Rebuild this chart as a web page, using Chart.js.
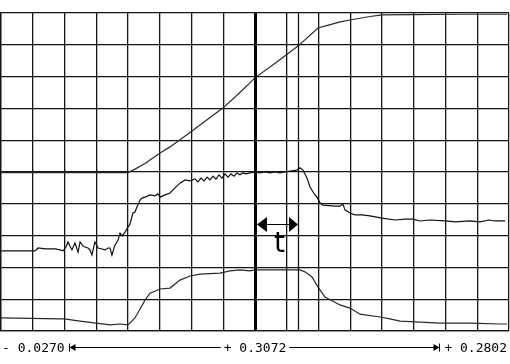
<!DOCTYPE html>
<html>
<head>
<meta charset="utf-8">
<script src="https://cdn.jsdelivr.net/npm/chart.js@4.4.1/dist/chart.umd.min.js"></script>
<style>
  html, body { margin: 0; padding: 0; background: #fff; }
  #wrap { width: 510px; height: 364px; }
</style>
</head>
<body>
<div id="wrap"><canvas id="scope" width="510" height="364"></canvas></div>
<script>
// time base in ms, amplitude in screen divisions (0 = bottom, 10 = top)
const START_MS = -27.0;
const SPAN_MS = 307.2;
const X_DIVS = 16;
const Y_DIVS = 10;

const cursorA = 126.6;
const cursorB = 152.4;
const arrowLevel = 3.36;
const tLabelLevel = 2.48;

const upperTime  = [-27.0, 10.5, 30.4, 49.8, 54.0, 60.1, 63.1, 69.2, 75.2, 87.3, 97.6, 107.2, 117.5, 126.6, 140.0, 152.6, 164.7, 171.0, 178.0, 184.0, 196.1, 203.4, 222.1, 250.0, 279.0];
const upperLevel = [4.98, 4.98, 4.98, 4.98, 5.09, 5.27, 5.38, 5.60, 5.79, 6.24, 6.64, 7.01, 7.50, 7.96, 8.47, 8.96, 9.53, 9.62, 9.72, 9.78, 9.89, 9.94, 9.95, 9.96, 9.96];

const middleTime  = [-27.0, -15.5, -6.4, -4.6, -0.4, 5.7, 8.7, 10.5, 12.3, 13.5, 14.7, 15.9, 17.7, 19.6, 20.8, 22.6, 23.8, 25.6, 26.8, 28.0, 29.8, 31.7, 34.1, 35.9, 37.7, 38.9, 40.1, 41.9, 43.8, 45.0, 46.2, 48.0, 49.8, 51.0, 52.8, 54.0, 55.2, 57.1, 58.3, 60.1, 63.1, 66.1, 67.9, 69.2, 72.2, 75.2, 78.2, 81.2, 84.3, 87.3, 90.3, 92.1, 93.9, 95.8, 97.6, 99.4, 101.2, 103.0, 104.8, 106.6, 108.5, 110.3, 112.1, 113.9, 115.7, 117.5, 119.3, 121.2, 123.6, 126.6, 129.6, 132.6, 135.7, 138.7, 141.7, 144.7, 147.8, 152.0, 153.8, 155.6, 158.0, 159.9, 161.7, 162.9, 164.1, 165.9, 167.7, 175.0, 178.0, 179.8, 181.0, 184.0, 187.1, 191.3, 196.1, 203.4, 211.3, 217.3, 222.1, 226.3, 232.0, 241.5, 248.0, 256.6, 262.7, 268.0, 271.7, 277.8];
const middleLevel = [2.52, 2.52, 2.52, 2.61, 2.58, 2.58, 2.55, 2.52, 2.64, 2.80, 2.67, 2.55, 2.77, 2.48, 2.80, 2.67, 2.64, 2.61, 2.55, 2.39, 2.80, 2.61, 2.58, 2.55, 2.61, 2.61, 2.39, 2.70, 2.86, 3.08, 2.99, 3.11, 3.27, 3.36, 3.71, 3.74, 3.90, 4.12, 4.18, 4.21, 4.28, 4.25, 4.31, 4.21, 4.28, 4.34, 4.50, 4.65, 4.75, 4.72, 4.78, 4.69, 4.81, 4.72, 4.84, 4.75, 4.87, 4.78, 4.91, 4.81, 4.94, 4.84, 4.94, 4.87, 4.97, 4.91, 4.97, 4.94, 4.97, 5.00, 4.97, 5.00, 4.97, 5.00, 4.97, 5.00, 5.03, 5.06, 5.13, 5.06, 4.81, 4.53, 4.37, 4.28, 4.21, 4.03, 3.96, 3.93, 3.93, 3.99, 3.81, 3.71, 3.65, 3.65, 3.62, 3.55, 3.49, 3.52, 3.52, 3.46, 3.49, 3.46, 3.43, 3.46, 3.43, 3.49, 3.46, 3.46];

const lowerTime  = [-27.0, 8.7, 11.1, 20.8, 30.4, 38.9, 45.0, 49.8, 54.0, 57.1, 60.1, 63.1, 69.2, 75.2, 81.2, 87.3, 93.3, 105.4, 111.5, 117.5, 123.6, 126.6, 153.8, 156.8, 161.1, 164.7, 168.9, 178.0, 184.0, 190.1, 202.2, 208.2, 214.3, 226.3, 238.5, 256.6, 274.7, 279.0];
const lowerLevel = [0.41, 0.38, 0.38, 0.31, 0.25, 0.19, 0.22, 0.19, 0.41, 0.69, 0.97, 1.19, 1.32, 1.35, 1.60, 1.73, 1.79, 1.82, 1.89, 1.92, 1.89, 1.92, 1.92, 1.86, 1.70, 1.38, 1.07, 0.82, 0.72, 0.53, 0.44, 0.38, 0.31, 0.28, 0.25, 0.25, 0.22, 0.22];

const GRID_COLOR = "#151515";
const END_MS = START_MS + SPAN_MS;

function toPoints(times, levels) {
  return times.map((t, i) => ({ x: t, y: levels[i] }));
}

function readout(ms) {
  return (ms < 0 ? "- " : "+ ") + Math.abs(ms / 1000).toFixed(4);
}

const scopeOverlay = {
  id: "scopeOverlay",
  afterDatasetsDraw(chart) {
    const { ctx, chartArea: area, scales: { x, y } } = chart;
    const xa = Math.round(x.getPixelForValue(cursorA)) + 0.5;
    const xb = Math.round(x.getPixelForValue(cursorB)) + 0.5;
    ctx.save();

    // second cursor
    ctx.strokeStyle = GRID_COLOR;
    ctx.lineWidth = 1.3;
    ctx.beginPath();
    ctx.moveTo(xb, area.top);
    ctx.lineTo(xb, area.bottom);
    ctx.stroke();

    // trigger / first cursor, bold
    ctx.strokeStyle = "#000";
    ctx.lineWidth = 3;
    ctx.beginPath();
    ctx.moveTo(xa, area.top);
    ctx.lineTo(xa, area.bottom);
    ctx.stroke();

    // interval arrow
    const ya = Math.round(y.getPixelForValue(arrowLevel)) + 0.5;
    ctx.lineWidth = 1;
    ctx.beginPath();
    ctx.moveTo(xa + 2, ya);
    ctx.lineTo(xb - 2, ya);
    ctx.stroke();
    ctx.fillStyle = "#000";
    ctx.beginPath();
    ctx.moveTo(xa + 1.5, ya);
    ctx.lineTo(xa + 11.5, ya - 7.5);
    ctx.lineTo(xa + 11.5, ya + 7.5);
    ctx.closePath();
    ctx.fill();
    ctx.beginPath();
    ctx.moveTo(xb - 0.5, ya);
    ctx.lineTo(xb - 9.5, ya - 7.5);
    ctx.lineTo(xb - 9.5, ya + 7.5);
    ctx.closePath();
    ctx.fill();

    ctx.font = "28px 'DejaVu Sans'";
    ctx.textAlign = "center";
    ctx.textBaseline = "alphabetic";
    ctx.fillText("t", (xa + xb) / 2 + 2.5, y.getPixelForValue(tLabelLevel));

    // time readout under the screen
    const baseY = area.bottom + 21;
    const lineY = Math.round(baseY - 5) + 0.5;
    const startText = readout(START_MS);
    const spanText = readout(SPAN_MS);
    const endText = readout(END_MS);
    ctx.font = "13px 'DejaVu Sans Mono'";
    ctx.textAlign = "left";
    ctx.fillText(startText, area.left + 1, baseY);
    ctx.textAlign = "right";
    ctx.fillText(endText, area.right - 2, baseY);
    ctx.textAlign = "center";
    const mid = (area.left + area.right) / 2;
    ctx.fillText(spanText, mid, baseY);

    const left = Math.round(area.left + 1 + ctx.measureText(startText).width + 4) + 0.5;
    const right = Math.round(area.right - 2 - ctx.measureText(endText).width - 5) + 0.5;
    const half = ctx.measureText(spanText).width / 2;
    ctx.beginPath();
    ctx.moveTo(left, lineY);
    ctx.lineTo(mid - half - 3, lineY);
    ctx.moveTo(mid + half + 3, lineY);
    ctx.lineTo(right, lineY);
    ctx.moveTo(left, lineY - 4);
    ctx.lineTo(left, lineY + 4);
    ctx.moveTo(right, lineY - 4);
    ctx.lineTo(right, lineY + 4);
    ctx.stroke();
    ctx.beginPath();
    ctx.moveTo(left, lineY);
    ctx.lineTo(left + 6, lineY - 3.5);
    ctx.lineTo(left + 6, lineY + 3.5);
    ctx.closePath();
    ctx.fill();
    ctx.beginPath();
    ctx.moveTo(right, lineY);
    ctx.lineTo(right - 6, lineY - 3.5);
    ctx.lineTo(right - 6, lineY + 3.5);
    ctx.closePath();
    ctx.fill();

    ctx.restore();
  }
};

new Chart(document.getElementById("scope"), {
  type: "line",
  data: {
    datasets: [
      { data: toPoints(upperTime, upperLevel), borderColor: "#2a2a2a", borderWidth: 1.2 },
      { data: toPoints(middleTime, middleLevel), borderColor: "#111", borderWidth: 1.2 },
      { data: toPoints(lowerTime, lowerLevel), borderColor: "#2a2a2a", borderWidth: 1.2 }
    ]
  },
  options: {
    responsive: false,
    animation: false,
    events: [],
    layout: { padding: { left: 1, right: 1, top: 13, bottom: 33 } },
    elements: { point: { radius: 0 }, line: { tension: 0, fill: false } },
    plugins: { legend: { display: false }, tooltip: { enabled: false } },
    scales: {
      x: {
        type: "linear",
        min: START_MS,
        max: END_MS,
        afterBuildTicks: axis => {
          axis.ticks = Array.from({ length: X_DIVS + 1 }, (_, i) => ({ value: START_MS + i * SPAN_MS / X_DIVS }));
        },
        ticks: { display: false },
        grid: { color: GRID_COLOR, lineWidth: 1.3, drawTicks: false },
        border: { color: GRID_COLOR, width: 1.3 }
      },
      y: {
        min: 0,
        max: Y_DIVS,
        ticks: { display: false, stepSize: 1 },
        grid: { color: GRID_COLOR, lineWidth: 1.3, drawTicks: false },
        border: { color: GRID_COLOR, width: 1.3 }
      }
    }
  },
  plugins: [scopeOverlay]
});
</script>
</body>
</html>
